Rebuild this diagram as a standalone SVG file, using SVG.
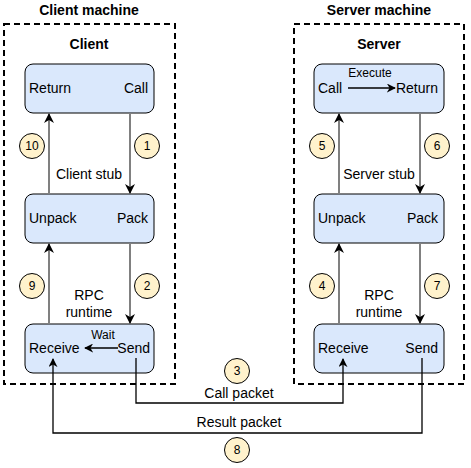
<svg xmlns="http://www.w3.org/2000/svg" width="471" height="468" viewBox="0 0 471 468">
<style>
text{font-family:"Liberation Sans",Arial,sans-serif;fill:#000}
.t{font-size:14px}
.s{font-size:12px}
.b{font-size:14px;font-weight:bold}
.m{text-anchor:middle}
.e{text-anchor:end}
.frame{fill:none;stroke:#000;stroke-width:2;stroke-dasharray:6 4}
.box{fill:#dae8fc;stroke:#000;stroke-width:1}
.num{fill:#fff2cc;stroke:#000;stroke-width:1}
.g{fill:none;stroke:#808080;stroke-width:2}
.k{fill:none;stroke:#000;stroke-width:1.3}
</style>
<defs>
<marker id="ah" viewBox="0 0 10 10" refX="9" refY="5" markerWidth="5" markerHeight="5" markerUnits="userSpaceOnUse" orient="auto"><path d="M0,0 L10,5 L0,10 L3,5 Z" fill="#000"/></marker>
<marker id="ahg" viewBox="0 0 10 10" refX="9" refY="5" markerWidth="10" markerHeight="10" markerUnits="userSpaceOnUse" orient="auto"><path d="M0,0 L10,5 L0,10 L3,5 Z" fill="#000"/></marker>
<marker id="ahk" viewBox="0 0 10 10" refX="9" refY="5" markerWidth="9" markerHeight="9" markerUnits="userSpaceOnUse" orient="auto"><path d="M0,0 L10,5 L0,10 L3,5 Z" fill="#000"/></marker>
</defs>

<g id="client-machine">
<rect class="frame" x="4" y="24" width="171" height="360"/>
<text class="b m" x="89" y="15">Client machine</text>
<text class="b m" x="89" y="49">Client</text>
<text class="t m" x="89" y="179">Client stub</text>
<text class="t m" x="89" y="300">RPC</text>
<text class="t m" x="89" y="317">runtime</text>
</g>
<g id="server-machine">
<rect class="frame" x="294" y="24" width="170" height="360"/>
<text class="b m" x="379" y="15">Server machine</text>
<text class="b m" x="379" y="49">Server</text>
<text class="t m" x="379" y="179">Server stub</text>
<text class="t m" x="379" y="300">RPC</text>
<text class="t m" x="379" y="317">runtime</text>
</g>

<g id="client-top">
<rect class="box" x="25" y="64" width="129" height="49" rx="8"/>
<text class="t" x="29" y="93">Return</text>
<text class="t e" x="148" y="93">Call</text>
</g>
<g id="client-stub">
<rect class="box" x="25" y="194" width="129" height="49" rx="8"/>
<text class="t" x="29" y="223">Unpack</text>
<text class="t e" x="148" y="223">Pack</text>
</g>
<g id="client-rpc">
<rect class="box" x="25" y="324" width="129" height="49" rx="8"/>
<text class="s m" x="103" y="339">Wait</text>
<text class="t" x="29" y="353">Receive</text>
<text class="t e" x="150" y="353">Send</text>
<line class="k" x1="118" y1="348" x2="85" y2="348" marker-end="url(#ahk)"/>
</g>
<g id="server-top">
<rect class="box" x="314" y="64" width="130" height="49" rx="8"/>
<text class="s m" x="370" y="77">Execute</text>
<text class="t" x="318" y="93">Call</text>
<text class="t e" x="438" y="93">Return</text>
<line class="k" x1="348" y1="88" x2="395" y2="88" marker-end="url(#ahk)"/>
</g>
<g id="server-stub">
<rect class="box" x="314" y="194" width="130" height="49" rx="8"/>
<text class="t" x="318" y="223">Unpack</text>
<text class="t e" x="438" y="223">Pack</text>
</g>
<g id="server-rpc">
<rect class="box" x="314" y="324" width="130" height="49" rx="8"/>
<text class="t" x="318" y="353">Receive</text>
<text class="t e" x="438" y="353">Send</text>
</g>

<g id="connectors">
<line class="g" x1="130" y1="113" x2="130" y2="193" marker-end="url(#ahg)"/>
<line class="g" x1="49" y1="194" x2="49" y2="114" marker-end="url(#ahg)"/>
<line class="g" x1="130" y1="243" x2="130" y2="323" marker-end="url(#ahg)"/>
<line class="g" x1="49" y1="324" x2="49" y2="244" marker-end="url(#ahg)"/>
<line class="g" x1="420" y1="113" x2="420" y2="193" marker-end="url(#ahg)"/>
<line class="g" x1="339" y1="194" x2="339" y2="114" marker-end="url(#ahg)"/>
<line class="g" x1="420" y1="243" x2="420" y2="323" marker-end="url(#ahg)"/>
<line class="g" x1="339" y1="324" x2="339" y2="244" marker-end="url(#ahg)"/>
<polyline class="k" points="136,358 136,403 343,403 343,359" marker-end="url(#ahk)"/>
<polyline class="k" points="422,358 422,433 53,433 53,359" marker-end="url(#ahk)"/>
<text class="t m" x="239" y="398">Call packet</text>
<text class="t m" x="239" y="427">Result packet</text>
</g>

<g id="steps">
<g id="step1"><circle class="num" cx="147" cy="146" r="12.5"/><text class="s m" x="147" y="150">1</text></g>
<g id="step2"><circle class="num" cx="147" cy="286" r="12.5"/><text class="s m" x="147" y="290">2</text></g>
<g id="step3"><circle class="num" cx="237" cy="371" r="12.5"/><text class="s m" x="237" y="375">3</text></g>
<g id="step4"><circle class="num" cx="322" cy="286" r="12.5"/><text class="s m" x="322" y="290">4</text></g>
<g id="step5"><circle class="num" cx="322" cy="146" r="12.5"/><text class="s m" x="322" y="150">5</text></g>
<g id="step6"><circle class="num" cx="437" cy="146" r="12.5"/><text class="s m" x="437" y="150">6</text></g>
<g id="step7"><circle class="num" cx="437" cy="286" r="12.5"/><text class="s m" x="437" y="290">7</text></g>
<g id="step8"><circle class="num" cx="237" cy="450" r="12.5"/><text class="s m" x="237" y="454">8</text></g>
<g id="step9"><circle class="num" cx="32" cy="286" r="12.5"/><text class="s m" x="32" y="290">9</text></g>
<g id="step10"><circle class="num" cx="32" cy="146" r="12.5"/><text class="s m" x="32" y="150">10</text></g>
</g>
</svg>
